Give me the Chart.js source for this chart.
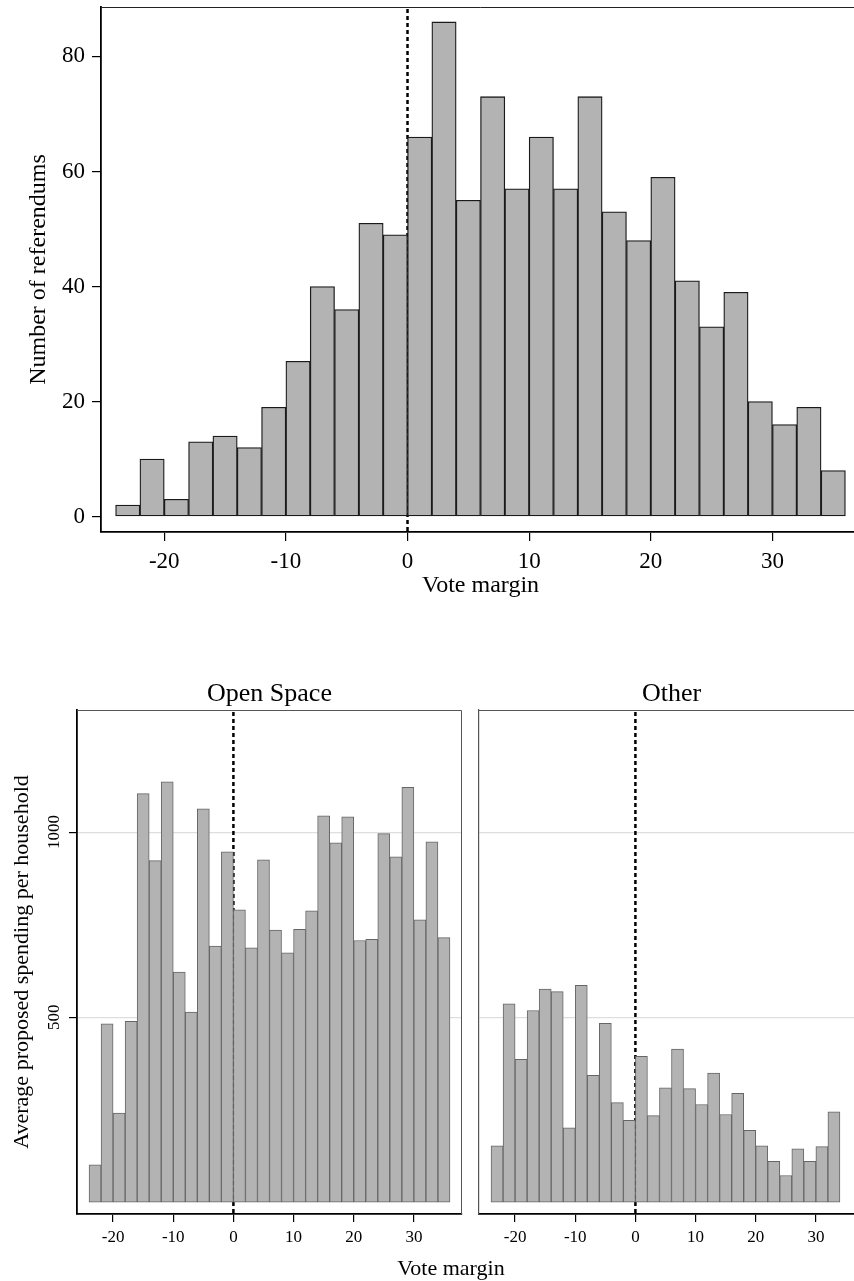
<!DOCTYPE html>
<html>
<head>
<meta charset="utf-8">
<script src="https://cdn.jsdelivr.net/npm/chart.js@4.4.1/dist/chart.umd.min.js"></script>
<style>
  html, body { margin: 0; padding: 0; background: #fff; overflow: hidden; }
  body { width: 854px; height: 1281px; position: relative; }
  canvas { position: absolute; }
  #topChart { left: 0; top: 0; }
  #openChart { left: 0; top: 640px; }
  #otherChart { left: 460px; top: 640px; }
  #bottomLabel { position: absolute; left: 301px; top: 1257px; width: 300px; text-align: center;
                 font: 22px "Liberation Serif", serif; line-height: 1; color: #000; }
</style>
</head>
<body>
<canvas id="topChart" width="870" height="600"></canvas>
<canvas id="openChart" width="470" height="641"></canvas>
<canvas id="otherChart" width="410" height="641"></canvas>
<div id="bottomLabel">Vote margin</div>
<script>
// bin centres (vote margin, 2-point bins)
const binCenters = [-23, -21, -19, -17, -15, -13, -11, -9, -7, -5, -3, -1, 1, 3, 5, 7, 9, 11, 13, 15, 17, 19, 21, 23, 25, 27, 29, 31, 33, 35];
const referendumCounts = [2, 10, 3, 13, 14, 12, 19, 27, 40, 36, 51, 49, 66, 86, 55, 73, 57, 66, 57, 73, 53, 48, 59, 41, 33, 39, 20, 16, 19, 8];

const openSpaceCenters = [-23, -21, -19, -17, -15, -13, -11, -9, -7, -5, -3, -1, 1, 3, 5, 7, 9, 11, 13, 15, 17, 19, 21, 23, 25, 27, 29, 31, 33, 35];
const openSpaceSpending = [101, 482, 241, 489, 1104, 923, 1136, 622, 514, 1063, 692, 947, 790, 687, 925, 735, 674, 737, 787, 1044, 971, 1041, 707, 710, 996, 933, 1121, 763, 974, 715];

const otherCenters = [-23, -21, -19, -17, -15, -13, -11, -9, -7, -5, -3, -1, 1, 3, 5, 7, 9, 11, 13, 15, 17, 19, 21, 23, 25, 27, 29, 31, 33];
const otherSpending = [152, 536, 386, 518, 576, 569, 201, 586, 343, 483, 269, 221, 394, 234, 309, 414, 307, 264, 349, 237, 294, 194, 152, 110, 72, 144, 110, 150, 244];

const xTicks = [-20, -10, 0, 10, 20, 30];
const countTicks = [0, 20, 40, 60, 80];
const spendingTicks = [500, 1000];

Chart.defaults.font.family = '"Liberation Serif", "Times New Roman", serif';
Chart.defaults.color = '#000';
Chart.defaults.animation = false;

function points(xs, ys) {
    return xs.map((x, i) => ({ x: x, y: ys[i] }));
}

// fixed axis size, no extra room for edge labels
function fixWidth(w) {
    return s => { s.width = w; s.paddingTop = 0; s.paddingBottom = 0; };
}
function fixHeight(h) {
    return s => { s.height = h; s.paddingLeft = 0; s.paddingRight = 0; };
}

// dashed cutoff line at vote margin 0
const zeroLine = {
    id: 'zeroLine',
    beforeDatasetsDraw(chart) {
        const { ctx, chartArea, scales } = chart;
        const x = scales.x.getPixelForValue(0);
        ctx.save();
        ctx.strokeStyle = '#000';
        ctx.lineWidth = 2.5;
        ctx.setLineDash([4, 3]);
        ctx.beginPath();
        ctx.moveTo(x, chartArea.top + 2);
        ctx.lineTo(x, chartArea.bottom);
        ctx.stroke();
        ctx.restore();
    }
};

// top and right edges of the plot box
const frame = {
    id: 'frame',
    afterDraw(chart, args, opts) {
        const { ctx, chartArea: a } = chart;
        ctx.save();
        ctx.strokeStyle = opts.color || '#333';
        ctx.lineWidth = 1;
        ctx.beginPath();
        ctx.moveTo(a.left, a.top + 0.5);
        ctx.lineTo(a.right - 0.5, a.top + 0.5);
        ctx.lineTo(a.right - 0.5, a.bottom);
        ctx.stroke();
        ctx.restore();
    }
};

// panel heading centred on the plot area
const panelTitle = {
    id: 'panelTitle',
    afterDraw(chart, args, opts) {
        if (!opts.text) return;
        const { ctx, chartArea: a } = chart;
        ctx.save();
        ctx.font = '26px "Liberation Serif", serif';
        ctx.fillStyle = '#000';
        ctx.textAlign = 'center';
        ctx.textBaseline = 'alphabetic';
        ctx.fillText(opts.text, (a.left + a.right) / 2, a.top - 9);
        ctx.restore();
    }
};

// vertical (rotated) y tick labels, as in the bottom panels
const rotatedTicks = {
    id: 'rotatedTicks',
    afterDraw(chart, args, opts) {
        if (!opts.x) return;
        const { ctx } = chart;
        const s = chart.scales.y;
        ctx.save();
        ctx.font = '17px "Liberation Serif", serif';
        ctx.fillStyle = '#000';
        ctx.textAlign = 'center';
        ctx.textBaseline = 'middle';
        s.ticks.forEach(t => {
            ctx.save();
            ctx.translate(opts.x, s.getPixelForValue(t.value));
            ctx.rotate(-Math.PI / 2);
            ctx.fillText(String(t.value), 0, 0);
            ctx.restore();
        });
        ctx.restore();
    }
};

new Chart(document.getElementById('topChart'), {
    type: 'bar',
    data: {
        datasets: [{
            data: points(binCenters, referendumCounts),
            backgroundColor: '#b3b3b3',
            borderColor: '#1a1a1a',
            borderWidth: 1.3,
            borderSkipped: false,
            barPercentage: 1,
            categoryPercentage: 1
        }]
    },
    options: {
        responsive: false,
        layout: { padding: { left: 0, top: 7, right: 10, bottom: 0 } },
        plugins: { legend: { display: false }, tooltip: { enabled: false }, frame: { color: '#222' } },
        scales: {
            x: {
                type: 'linear', min: -25.2, max: 37.2, offset: false,
                afterBuildTicks: s => { s.ticks = xTicks.map(v => ({ value: v })); },
                afterFit: fixHeight(68),
                grid: { offset: false, drawOnChartArea: false, tickLength: 9, color: '#000', lineWidth: 1.2 },
                border: { color: '#000', width: 1.8 },
                ticks: { font: { size: 23 }, padding: 7, maxRotation: 0 },
                title: { display: true, text: 'Vote margin', font: { size: 24 }, padding: { top: 0, bottom: 0 } }
            },
            y: {
                min: -2.7, max: 88.6,
                afterBuildTicks: s => { s.ticks = countTicks.map(v => ({ value: v })); },
                afterFit: fixWidth(101),
                grid: { drawOnChartArea: false, tickLength: 9, color: '#000', lineWidth: 1.2 },
                border: { color: '#000', width: 1.8 },
                ticks: { font: { size: 23 }, padding: 7 },
                title: { display: true, text: 'Number of referendums', font: { size: 24 }, padding: { top: 24, bottom: 0 } }
            }
        }
    },
    plugins: [zeroLine, frame]
});

function spendingPanel(canvasId, title, xs, ys, leftAxis) {
    return new Chart(document.getElementById(canvasId), {
        type: 'bar',
        data: {
            datasets: [{
                data: points(xs, ys),
                backgroundColor: '#b3b3b3',
                borderColor: '#666',
                borderWidth: 1,
                borderSkipped: false,
                barPercentage: 1,
                categoryPercentage: 1
            }]
        },
        options: {
            responsive: false,
            layout: { padding: leftAxis ? { left: 0, top: 70, right: 8, bottom: 0 } : { left: 0, top: 70, right: 6, bottom: 0 } },
            plugins: {
                legend: { display: false }, tooltip: { enabled: false },
                frame: { color: '#555' },
                panelTitle: { text: title },
                rotatedTicks: { x: leftAxis ? 55 : null }
            },
            scales: {
                x: {
                    type: 'linear', min: -26, max: 38, offset: false,
                    afterBuildTicks: s => { s.ticks = xTicks.map(v => ({ value: v })); },
                    afterFit: fixHeight(67),
                    grid: { offset: false, drawOnChartArea: false, tickLength: 8, color: '#000', lineWidth: 1.2 },
                    border: { color: '#000', width: 1.8 },
                    ticks: { font: { size: 17 }, padding: 5, maxRotation: 0 }
                },
                y: {
                    min: -32, max: 1330,
                    afterBuildTicks: s => { s.ticks = spendingTicks.map(v => ({ value: v })); },
                    afterFit: fixWidth(leftAxis ? 77 : 19),
                    grid: {
                        color: '#dedede', lineWidth: 1.2, tickColor: '#000',
                        drawTicks: leftAxis, tickLength: 8
                    },
                    border: { color: leftAxis ? '#000' : '#555', width: leftAxis ? 1.8 : 1.2 },
                    ticks: { display: false },
                    title: {
                        display: leftAxis, text: 'Average proposed spending per household',
                        font: { size: 22 }, padding: { top: 9, bottom: 0 }
                    }
                }
            }
        },
        plugins: [zeroLine, frame, panelTitle, rotatedTicks]
    });
}

spendingPanel('openChart', 'Open Space', openSpaceCenters, openSpaceSpending, true);
spendingPanel('otherChart', 'Other', otherCenters, otherSpending, false);
</script>
</body>
</html>
